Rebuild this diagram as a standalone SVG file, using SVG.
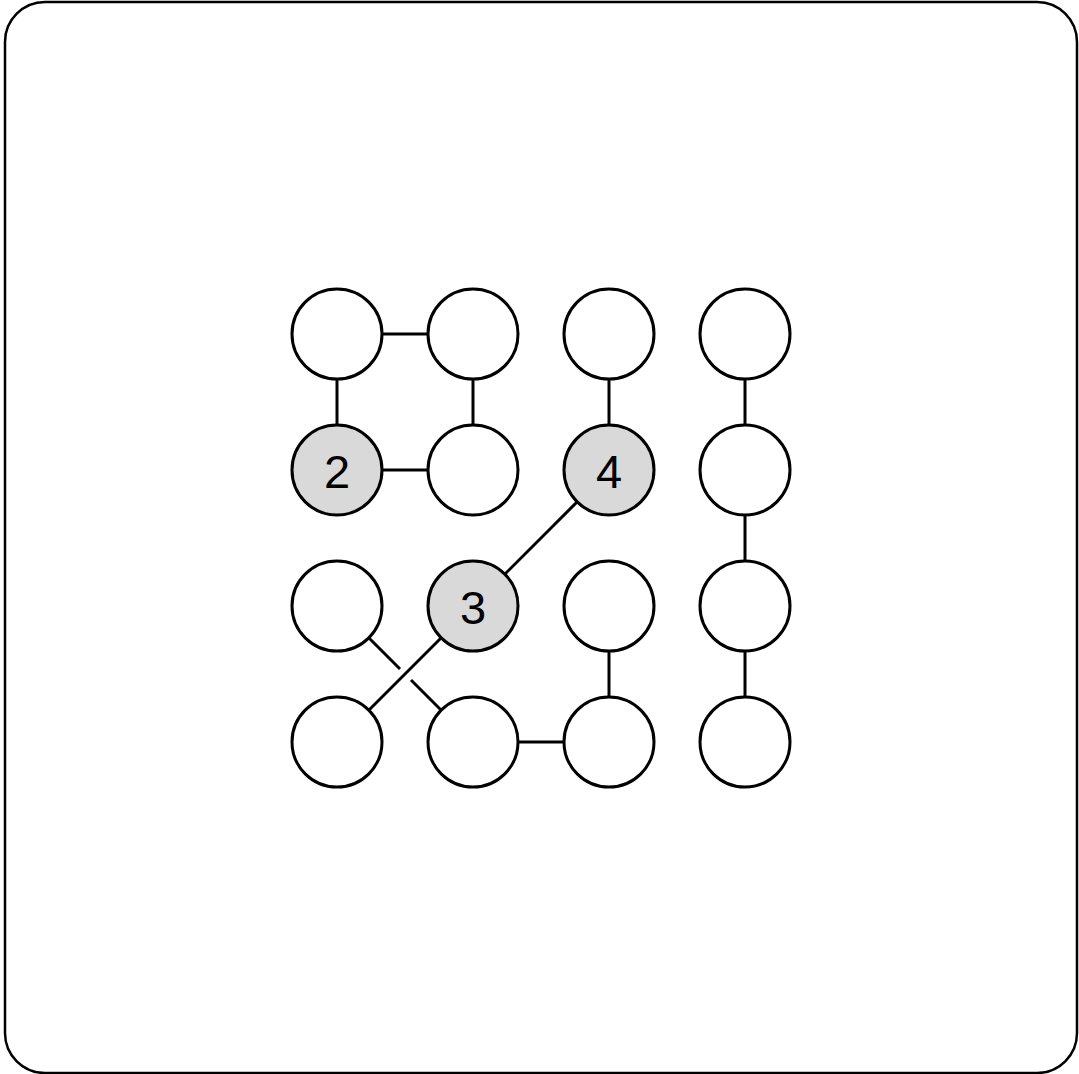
<svg xmlns="http://www.w3.org/2000/svg" width="1079" height="1074" viewBox="0 0 1079 1074">
<style>
.n{fill:#fff;stroke:#000;stroke-width:3}
.g{fill:#d9d9d9}
.e{stroke:#000;stroke-width:3;fill:none}
.t{font-family:"Liberation Sans",Arial,sans-serif;font-size:47px;text-anchor:middle;dominant-baseline:central;fill:#000}
</style>
<rect x="5" y="2" width="1072" height="1071" rx="40" ry="40" fill="#fff" stroke="#000" stroke-width="2.5"/>
<g id="edges">
<line class="e" x1="337" y1="334" x2="473" y2="334"/>
<line class="e" x1="337" y1="334" x2="337" y2="470"/>
<line class="e" x1="473" y1="334" x2="473" y2="470"/>
<line class="e" x1="337" y1="470" x2="473" y2="470"/>
<line class="e" x1="609" y1="334" x2="609" y2="470"/>
<line class="e" x1="745" y1="334" x2="745" y2="742"/>
<line class="e" x1="473" y1="606" x2="609" y2="470"/>
<line class="e" x1="473" y1="606" x2="337" y2="742"/>
<line class="e" x1="337" y1="606" x2="400" y2="669"/>
<line class="e" x1="411" y1="680" x2="473" y2="742"/>
<line class="e" x1="473" y1="742" x2="609" y2="742"/>
<line class="e" x1="609" y1="606" x2="609" y2="742"/>
</g>
<g id="n1"><circle class="n" cx="337" cy="334" r="45"/></g>
<g id="n2"><circle class="n" cx="473" cy="334" r="45"/></g>
<g id="n3"><circle class="n" cx="609" cy="334" r="45"/></g>
<g id="n4"><circle class="n" cx="745" cy="334" r="45"/></g>
<g id="n5"><circle class="n g" cx="337" cy="470" r="45"/><text class="t" x="337" y="471">2</text></g>
<g id="n6"><circle class="n" cx="473" cy="470" r="45"/></g>
<g id="n7"><circle class="n g" cx="609" cy="470" r="45"/><text class="t" x="609" y="471">4</text></g>
<g id="n8"><circle class="n" cx="745" cy="470" r="45"/></g>
<g id="n9"><circle class="n" cx="337" cy="606" r="45"/></g>
<g id="n10"><circle class="n g" cx="473" cy="606" r="45"/><text class="t" x="473" y="607">3</text></g>
<g id="n11"><circle class="n" cx="609" cy="606" r="45"/></g>
<g id="n12"><circle class="n" cx="745" cy="606" r="45"/></g>
<g id="n13"><circle class="n" cx="337" cy="742" r="45"/></g>
<g id="n14"><circle class="n" cx="473" cy="742" r="45"/></g>
<g id="n15"><circle class="n" cx="609" cy="742" r="45"/></g>
<g id="n16"><circle class="n" cx="745" cy="742" r="45"/></g>
</svg>
